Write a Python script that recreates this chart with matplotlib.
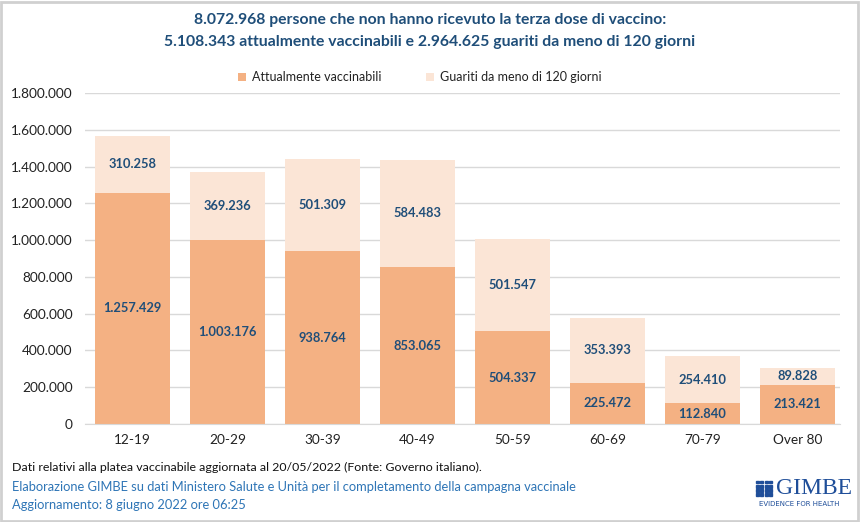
import matplotlib
matplotlib.use("Agg")
import matplotlib.pyplot as plt
from matplotlib.patches import Rectangle
from matplotlib.ticker import FuncFormatter, MultipleLocator

categories = ["12-19", "20-29", "30-39", "40-49", "50-59", "60-69", "70-79", "Over 80"]
vaccinabili = [1257429, 1003176, 938764, 853065, 504337, 225472, 112840, 213421]
guariti = [310258, 369236, 501309, 584483, 501547, 353393, 254410, 89828]

title = ("8.072.968 persone che non hanno ricevuto la terza dose di vaccino:\n"
         "5.108.343 attualmente vaccinabili e 2.964.625 guariti da meno di 120 giorni")
series_names = ["Attualmente vaccinabili", "Guariti da meno di 120 giorni"]

C_LOW = "#F4B183"
C_UP = "#FBE5D6"
C_TXT = "#1F4E79"
C_BLUE = "#2E75B6"

plt.rcParams['font.family'] = ['Lato', 'DejaVu Sans']

W, H = 860, 522
fig = plt.figure(figsize=(W / 100, H / 100), dpi=100)

def fx(px):
    return px / W

def fy(py):
    return 1 - py / H

ax = fig.add_axes([fx(85), fy(424), fx(840) - fx(85), fy(93) - fy(424)])

def fmt(v):
    return f"{int(round(v)):,}".replace(",", ".")

x = list(range(len(categories)))
bw = 0.79
ax.bar(x, vaccinabili, width=bw, color=C_LOW, zorder=2, label=series_names[0])
ax.bar(x, guariti, width=bw, bottom=vaccinabili, color=C_UP, zorder=2, label=series_names[1])

for i in x:
    ax.text(i, vaccinabili[i] / 2, fmt(vaccinabili[i]), ha="center", va="center",
            color=C_TXT, fontsize=9.3, fontweight="bold", zorder=3)
    ax.text(i, vaccinabili[i] + guariti[i] / 2, fmt(guariti[i]), ha="center", va="center",
            color=C_TXT, fontsize=9.3, fontweight="bold", zorder=3)

ax.set_xlim(-0.5, 7.45)
ax.set_ylim(0, 1800000)
ax.yaxis.set_major_locator(MultipleLocator(200000))
ax.yaxis.set_major_formatter(FuncFormatter(lambda v, p: fmt(v)))
ax.set_xticks(x)
ax.set_xticklabels(categories)
ax.tick_params(axis="both", length=0, labelsize=9.8, colors="#222222")
ax.tick_params(axis="y", pad=9)
ax.tick_params(axis="x", pad=7)
ax.grid(axis="y", color="#D9D9D9", linewidth=1, zorder=0)
for s in ["left", "right", "top"]:
    ax.spines[s].set_visible(False)
ax.spines["bottom"].set_color("#D9D9D9")

fig.text(0.5, fy(31), title, ha="center", va="center", color=C_TXT,
         fontsize=11.3, fontweight="bold", linespacing=1.8)

leg = fig.legend(loc="center", bbox_to_anchor=(fx(420), fy(77)), ncol=2, frameon=False,
                 fontsize=9, handlelength=0.6, handleheight=0.6, columnspacing=3.6,
                 handletextpad=0.5)
for t in leg.get_texts():
    t.set_color("#222222")

fig.text(fx(12), fy(467), "Dati relativi alla platea vaccinabile aggiornata al 20/05/2022 (Fonte: Governo italiano).",
         ha="left", va="center", fontsize=8.9, color="#111111")
fig.text(fx(12), fy(487), "Elaborazione GIMBE su dati Ministero Salute e Unità per il completamento della campagna vaccinale",
         ha="left", va="center", fontsize=9.25, color=C_BLUE)
fig.text(fx(12), fy(505), "Aggiornamento: 8 giugno 2022 ore 06:25",
         ha="left", va="center", fontsize=9.25, color=C_BLUE)

# logo
for r in range(4):
    for c in range(4):
        fig.patches.append(Rectangle((fx(755.5 + c * 4.6), fy(479 + (r + 1) * 4.3)), fx(3.0), 2.8 / H,
                                     transform=fig.transFigure, color="#1F4E99"))
fig.text(fx(776), fy(488), "GIMBE", ha="left", va="center", fontsize=17, color="#1F4E99",
         family=["Liberation Serif", "DejaVu Serif"])
fig.text(fx(799), fy(504), "EVIDENCE FOR HEALTH", ha="center", va="center", fontsize=5,
         color="#1F4E99", family=["DejaVu Sans"])

fig.patches.append(Rectangle((0.001, 0.002), 0.997, 0.994, transform=fig.transFigure,
                             fill=False, edgecolor="#D0D0D0", linewidth=2))

fig.savefig("out.png", dpi=100, facecolor="white")
